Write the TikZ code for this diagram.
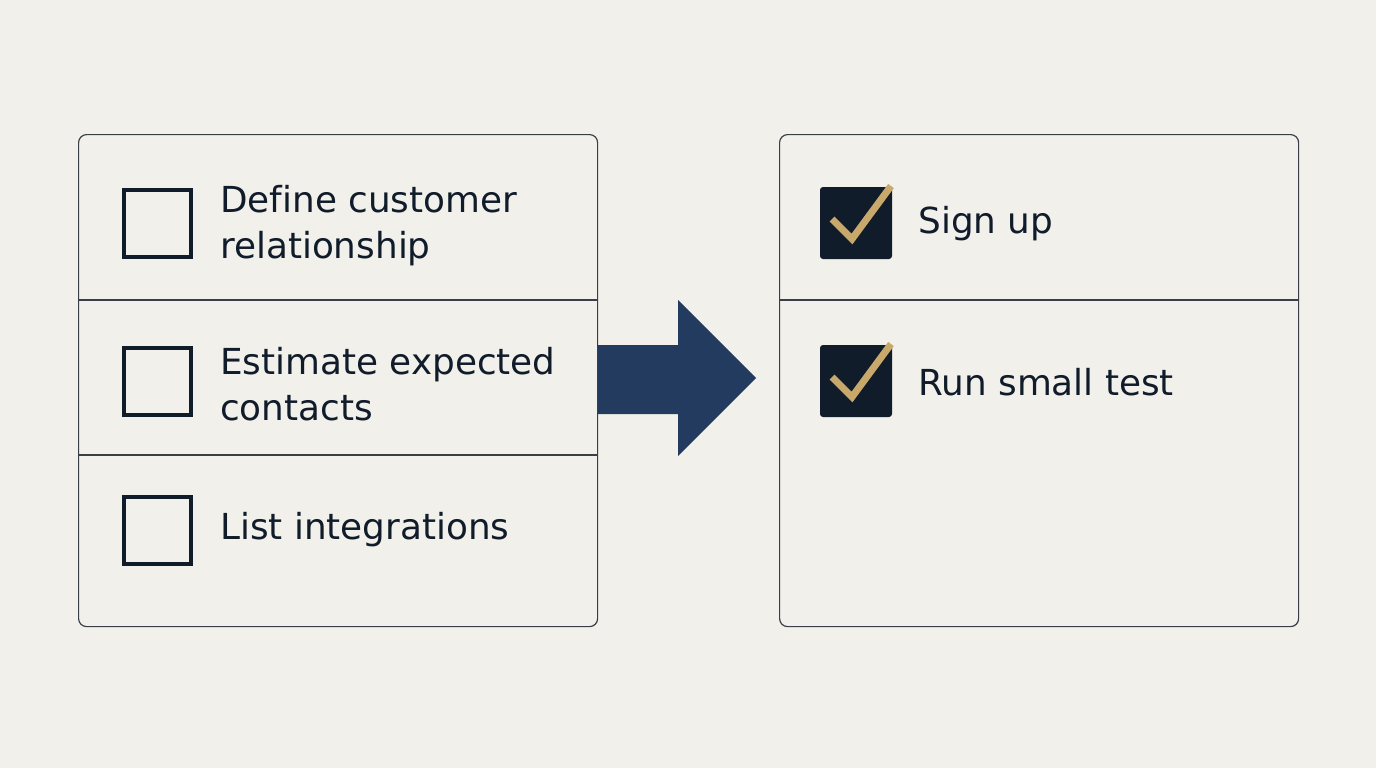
\documentclass[tikz,border=0pt]{standalone}
\usepackage{fontspec}
\setmainfont{DejaVu Sans}[Ligatures=NoCommon]
\usepackage{xcolor}
\usetikzlibrary{positioning,calc}

\definecolor{paper}{HTML}{F2F0EB}
\definecolor{ink}{HTML}{111C2B}
\definecolor{rule}{HTML}{3A3F47}
\definecolor{navy}{HTML}{233B5F}
\definecolor{gold}{HTML}{C9A86B}

\begin{document}
\begin{tikzpicture}[
  x=1pt, y=-1pt,
  panel/.style = {draw=rule, line width=1.2pt, rounded corners=8pt,
                  minimum width=519pt, minimum height=492pt, anchor=north west},
  sep/.style   = {draw=rule, line width=1.2pt},
  box/.style   = {draw=ink, line width=4pt, minimum size=67pt, inner sep=0pt},
  tick/.style  = {fill=ink, rounded corners=3pt, minimum size=72pt, inner sep=0pt},
  checkline/.style = {draw=gold, line width=7pt},
  item/.style  = {text=ink, align=left, inner sep=0pt,
                  font=\fontsize{35.8}{46}\selectfont}
]
\fill[paper] (0,0) rectangle (1376,768);
\useasboundingbox (0,0) rectangle (1376,768);

%% ---- to do panel ---------------------------------------------------
\node[panel] (todo) at (78,134) {};
\draw[sep] (todo.west |- 0,300) -- (todo.east |- 0,300);
\draw[sep] (todo.west |- 0,455) -- (todo.east |- 0,455);

\node[box] (b1) at (157.5,223) {};
\node[box] (b2) at (157.5,381) {};
\node[box] (b3) at (157.5,530) {};
\node[item, right=27pt of b1, yshift=-3pt] (t1) {Define customer\\relationship};
\node[item, right=27pt of b2, yshift=-3pt] (t2) {Estimate expected\\contacts};
\node[item, right=27pt of b3] (t3) {List integrations};

%% ---- done panel ----------------------------------------------------
\node[panel] (done) at (779,134) {};
\draw[sep] (done.west |- 0,300) -- (done.east |- 0,300);

\node[tick] (c1) at (856,223) {};
\node[tick] (c2) at (856,381) {};
\draw[checkline] ($(c1.center)+(-24,-4)$) -- ++(20,20) -- ++(39,-53);
\draw[checkline] ($(c2.center)+(-24,-4)$) -- ++(20,20) -- ++(39,-53);
\node[item, right=26pt of c1, yshift=-1pt] (d1) {Sign up};
\node[item, right=26pt of c2, yshift=-1pt] (d2) {Run small test};

%% ---- block arrow ---------------------------------------------------
\coordinate (tip) at ($(done.west |- 0,378)+(-23,0)$);
\fill[navy] (todo.east |- 0,345) -- (678,345) -- (678,300) -- (tip)
  -- (678,456) -- (678,414) -- (todo.east |- 0,414) -- cycle;
\end{tikzpicture}
\end{document}
